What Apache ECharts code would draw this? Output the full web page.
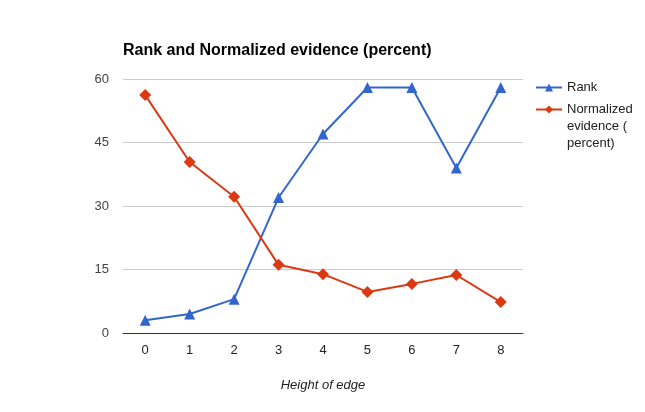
<!DOCTYPE html>
<html>
<head>
<meta charset="utf-8">
<script src="https://cdn.jsdelivr.net/npm/echarts@6/dist/echarts.min.js"></script>
<style>
  html, body { margin: 0; padding: 0; background: #fff; }
  #chart { width: 645px; height: 412px; }
</style>
</head>
<body>
<div id="chart"></div>
<script>
var heights = ['0', '1', '2', '3', '4', '5', '6', '7', '8'];
var rank = [3, 4.5, 8, 32, 47, 58, 58, 39, 58];
var normalized = [56.2, 40.4, 32.2, 16.1, 13.9, 9.7, 11.6, 13.7, 7.3];
var seriesNames = ['Rank', 'Normalized evidence ( percent)'];

var myChart = echarts.init(document.getElementById('chart'));
var option = {
    animation: false,
    textStyle: { fontFamily: 'Arial, Liberation Sans, sans-serif' },
    title: {
        text: 'Rank and Normalized evidence (percent)',
        left: 123,
        top: 43,
        padding: 0,
        textStyle: { fontSize: 16, fontWeight: 'bold', color: '#000' }
    },
    legend: {
        orient: 'vertical',
        left: 535,
        top: 79,
        padding: 0,
        itemWidth: 26,
        itemHeight: 10,
        itemGap: 5,
        textStyle: { fontSize: 13, color: '#222', lineHeight: 17 },
        // second name wraps; first line goes in the legend, the rest below
        formatter: function (name) {
            return name === seriesNames[1] ? 'Normalized' : name;
        },
        data: seriesNames
    },
    graphic: [{
        type: 'text',
        left: 567,
        top: 118,
        style: {
            text: 'evidence (\npercent)',
            fontSize: 13,
            lineHeight: 17,
            fill: '#222',
            fontFamily: 'Arial, Liberation Sans, sans-serif'
        }
    }],
    grid: { left: 123, right: 122, top: 79, bottom: 79 },
    xAxis: {
        type: 'category',
        data: heights,
        name: 'Height of edge',
        nameLocation: 'middle',
        nameGap: 46,
        nameTextStyle: { fontStyle: 'italic', fontSize: 13, color: '#222' },
        axisLine: { lineStyle: { color: '#333' } },
        axisTick: { show: false },
        axisLabel: { fontSize: 13, color: '#222', margin: 11 }
    },
    yAxis: {
        type: 'value',
        min: 0,
        max: 60,
        interval: 15,
        axisLine: { show: false },
        axisTick: { show: false },
        axisLabel: { fontSize: 13, color: '#444', margin: 14 },
        splitLine: { lineStyle: { color: '#ccc' } }
    },
    series: [
        {
            name: seriesNames[0],
            type: 'line',
            data: rank,
            symbol: 'triangle',
            symbolSize: 11,
            lineStyle: { color: '#3366cc', width: 2 },
            itemStyle: { color: '#3366cc' }
        },
        {
            name: seriesNames[1],
            type: 'line',
            data: normalized,
            symbol: 'diamond',
            symbolSize: 12,
            lineStyle: { color: '#dc3912', width: 2 },
            itemStyle: { color: '#dc3912' }
        }
    ]
};
myChart.setOption(option);
</script>
</body>
</html>
